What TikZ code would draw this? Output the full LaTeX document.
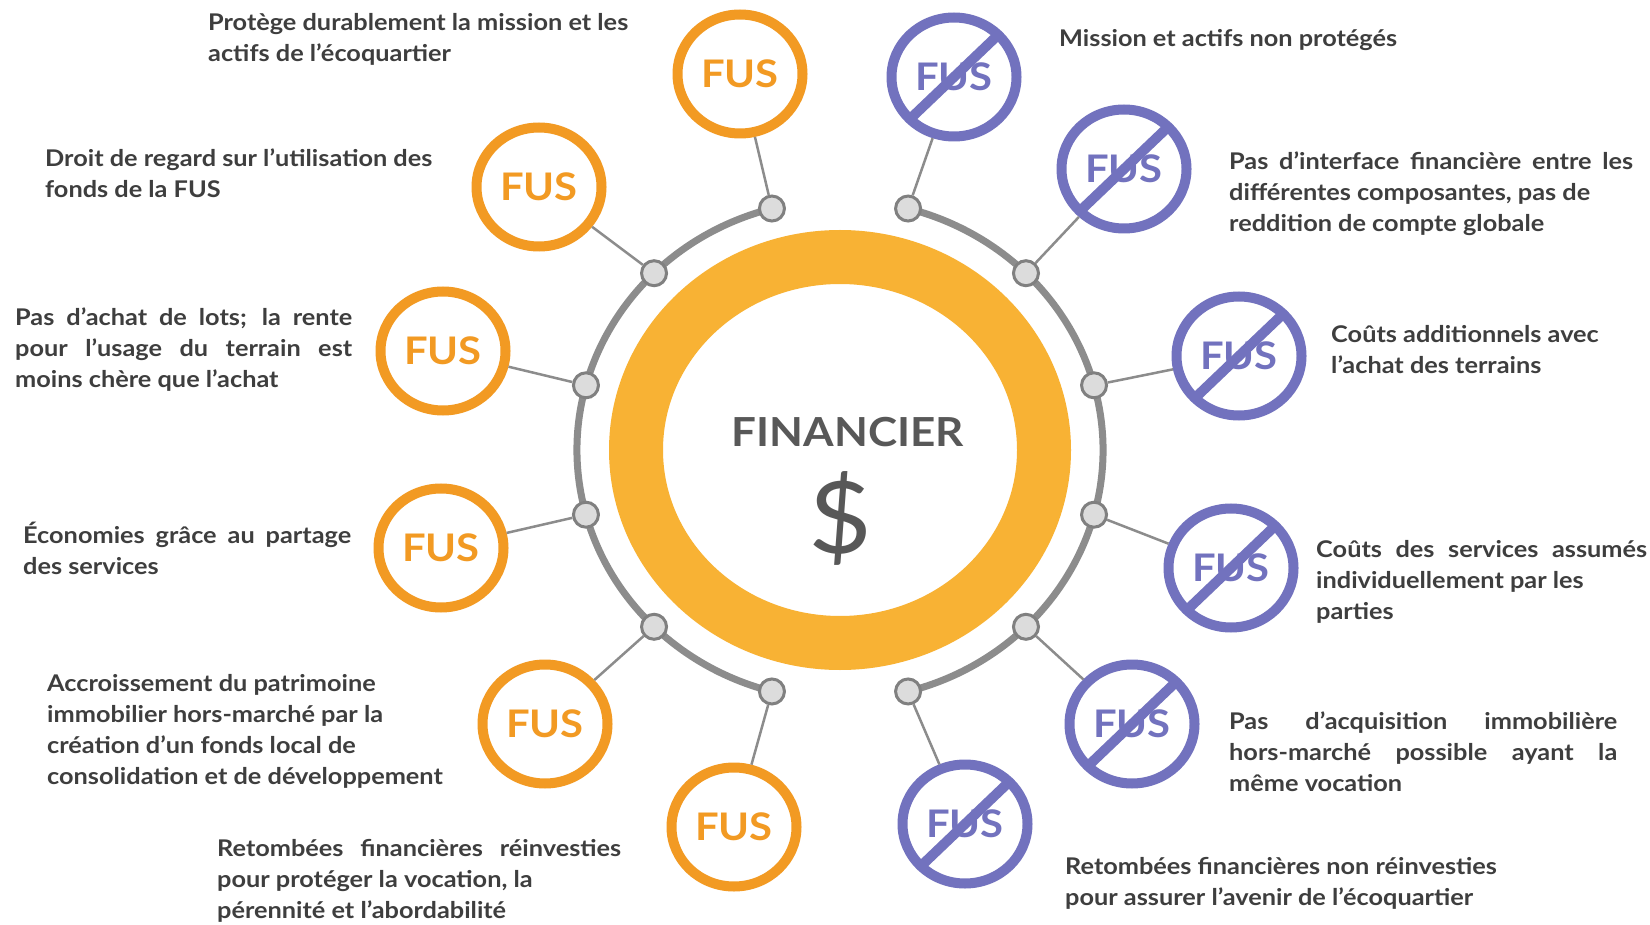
\documentclass[tikz,border=0pt]{standalone}
\usepackage{fontspec}
\setmainfont{Lato}[FakeStretch=1.1]
\usetikzlibrary{shapes.geometric,calc}
\definecolor{fusorange}{RGB}{242,154,35}
\definecolor{ringorange}{RGB}{248,178,52}
\definecolor{fuspurple}{RGB}{114,114,190}
\definecolor{arcgray}{RGB}{140,140,140}
\definecolor{dotline}{RGB}{128,128,128}
\definecolor{dotfill}{RGB}{220,220,220}
\definecolor{txtgray}{RGB}{62,62,62}
\definecolor{midgray}{RGB}{88,88,88}
\newcommand{\jline}[2]{\makebox[#1pt][s]{#2}}
\begin{document}
\begin{tikzpicture}[x=1pt,y=-1pt,
  fusyes/.style={ellipse, draw=fusorange, line width=10pt, fill=white, minimum width=125pt, minimum height=119pt, inner sep=0pt, text=fusorange, font=\fontsize{38}{38}\selectfont\bfseries},
  fusno/.style={fusyes, draw=fuspurple, text=fuspurple},
  strike/.style={draw=fuspurple, line width=10pt},
  dot/.style={circle, draw=dotline, fill=dotfill, line width=3pt, minimum size=25pt, inner sep=0pt},
  arcline/.style={draw=arcgray, line width=7pt},
  link/.style={draw=arcgray, line width=2.5pt},
  txt/.style={inner sep=0pt, anchor=north west, text=txtgray, align=left, font=\fontsize{23}{31}\selectfont\bfseries},
]
\useasboundingbox (0,0) rectangle (1650,925);
\fill[white] (0,0) rectangle (1650,925);

% central ring
\draw[ringorange, line width=54pt] (840,450) ellipse [x radius=204, y radius=193];
\node[text=midgray, font=\fontsize{40}{40}\selectfont\bfseries] (title) at (848,432) {FINANCIER};
\node[text=midgray, font=\fontsize{100}{100}\selectfont] (dollar) at (840,518) {\$};

% grey arcs
\draw[arcline] ({840+263*cos(105)},{450-250*sin(105)}) arc[start angle=-105, end angle=-255, x radius=263, y radius=250];
\draw[arcline] ({840+263*cos(-75)},{450-250*sin(-75)}) arc[start angle=75, end angle=-75, x radius=263, y radius=250];

% dots
\foreach \a/\n in {105/l1,135/l2,165/l3,195/l4,225/l5,255/l6,75/r1,45/r2,15/r3,-15/r4,-45/r5,-75/r6}
  \node[dot] (d\n) at ({840+263*cos(\a)},{450-250*sin(\a)}) {};

% FUS circles
\node[fusyes] (fl1) at (740,74) {FUS};
\node[fusyes] (fl2) at (539,187) {FUS};
\node[fusyes] (fl3) at (443,351) {FUS};
\node[fusyes] (fl4) at (441,548) {FUS};
\node[fusyes] (fl5) at (545,724) {FUS};
\node[fusyes] (fl6) at (734,827) {FUS};
\node[fusno] (fr1) at (954,77) {FUS};
\node[fusno] (fr2) at (1124,169) {FUS};
\node[fusno] (fr3) at (1239,356) {FUS};
\node[fusno] (fr4) at (1231,568) {FUS};
\node[fusno] (fr5) at (1132,724) {FUS};
\node[fusno] (fr6) at (965,824) {FUS};

\foreach \n in {l1,l2,l3,l4,l5,l6,r1,r2,r3,r4,r5,r6}
  \draw[link] (d\n) -- (f\n);
\foreach \n in {r1,r2,r3,r4,r5,r6}
  \draw[strike] ($(f\n.center)+(-44,42)$) -- ($(f\n.center)+(44,-42)$);

% left texts
\node[txt] (tl1) at (208,9) {\strut Protège durablement la mission et les\\ actifs de l’écoquartier};
\node[txt] (tl2) at (45,145) {\strut Droit de regard sur l’utilisation des\\ fonds de la FUS};
\node[txt] (tl3) at (15,304) {\strut\jline{337}{Pas d’achat de lots; la rente}\\ \jline{337}{pour l’usage du terrain est}\\ moins chère que l’achat};
\node[txt] (tl4) at (23,522) {\strut\jline{328}{Économies grâce au partage}\\ des services};
\node[txt] (tl5) at (47,670) {\strut Accroissement du patrimoine\\ immobilier hors-marché par la\\ création d’un fonds local de\\ consolidation et de développement};
\node[txt] (tl6) at (217,835) {\strut\jline{404}{Retombées financières réinvesties}\\ pour protéger la vocation, la\\ pérennité et l’abordabilité};

% right texts
\node[txt] (tr1) at (1059,25) {\strut Mission et actifs non protégés};
\node[txt] (tr2) at (1229,148) {\strut\jline{404}{Pas d’interface financière entre les}\\ différentes composantes, pas de\\ reddition de compte globale};
\node[txt] (tr3) at (1331,321) {\strut Coûts additionnels avec\\ l’achat des terrains};
\node[txt] (tr4) at (1316,536) {\strut\jline{331}{Coûts des services assumés}\\ individuellement par les\\ parties};
\node[txt] (tr5) at (1229,708) {\strut\jline{388}{Pas d’acquisition immobilière}\\ \jline{388}{hors-marché possible ayant la}\\ même vocation};
\node[txt] (tr6) at (1065,853) {\strut Retombées financières non réinvesties\\ pour assurer l’avenir de l’écoquartier};
\end{tikzpicture}
\end{document}
